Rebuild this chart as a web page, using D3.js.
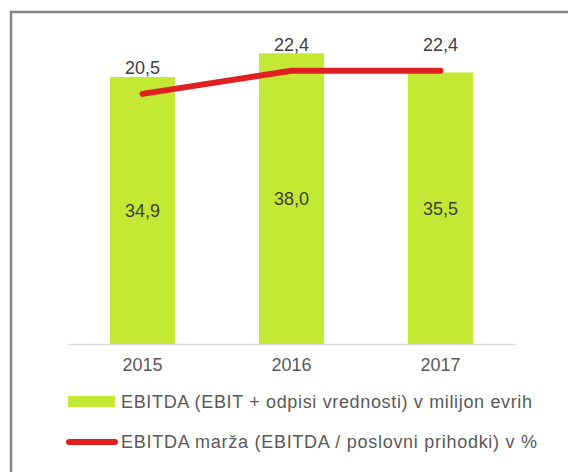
<!DOCTYPE html>
<html>
<head>
<meta charset="utf-8">
<script src="https://cdn.jsdelivr.net/npm/d3@7"></script>
<style>
  body { margin: 0; background: #fff; }
  svg { display: block; font-family: "Liberation Sans", Arial, sans-serif; }
</style>
</head>
<body>
<div class="content"></div>
<script>
var years = ["2015", "2016", "2017"];
var ebitda = [34.9, 38.0, 35.5];
var marza = [20.5, 22.4, 22.4];
var barLabel = "EBITDA (EBIT + odpisi vrednosti) v milijon evrih";
var lineLabel = "EBITDA marža (EBITDA / poslovni prihodki) v %";

var fullWidth = 568, fullHeight = 472;
var fmt = function(v){ return d3.format(".1f")(v).replace(".", ","); };

var svg = d3.select("div.content").append("svg")
    .attr("width", fullWidth)
    .attr("height", fullHeight);

// frame (runs off the right and bottom edge)
svg.append("rect")
    .attr("x", 11).attr("y", 12)
    .attr("width", 600).attr("height", 500)
    .attr("fill", "none")
    .attr("stroke", "#858585")
    .attr("stroke-width", 2.5);

var x = d3.scaleBand().domain(years).range([68, 515]).paddingInner(0.564).paddingOuter(0.282);
var y = d3.scaleLinear().domain([0, 40]).range([344, 38]);
var y2 = d3.scaleLinear().domain([0, 25]).range([344, 39]);

//bars
svg.selectAll(".bar")
    .data(years)
  .enter().append("rect")
    .attr("class", "bar")
    .attr("x", function(d){ return x(d); })
    .attr("width", x.bandwidth())
    .attr("y", function(d, i){ return y(ebitda[i]); })
    .attr("height", function(d, i){ return y(0) - y(ebitda[i]); })
    .style("fill", "#c3e934");

//x-axis
var xAxis = d3.axisBottom(x).tickSize(0).tickPadding(14);
var gx = svg.append("g")
    .attr("class", "x-axis")
    .attr("transform", "translate(0," + y(0) + ")")
    .call(xAxis);
gx.select(".domain").attr("stroke", "#d9d9d9").attr("stroke-width", 1.5);
gx.selectAll("text")
    .style("font-size", "18px")
    .style("fill", "#595959")
    .style("font-family", "'Liberation Sans', Arial, sans-serif");

//bar labels
svg.selectAll(".barlabel")
    .data(years)
  .enter().append("text")
    .attr("class", "barlabel")
    .attr("x", function(d){ return x(d) + x.bandwidth() / 2; })
    .attr("y", function(d, i){ return (y(ebitda[i]) + y(0)) / 2; })
    .attr("dy", "0.35em")
    .style("text-anchor", "middle")
    .style("font-size", "18px")
    .style("fill", "#404040")
    .text(function(d, i){ return fmt(ebitda[i]); });

//line
var valueLine = d3.line()
    .x(function(d, i){ return x(years[i]) + x.bandwidth() / 2; })
    .y(function(d){ return y2(d); });
svg.append("path")
    .datum(marza)
    .attr("d", valueLine)
    .attr("fill", "none")
    .attr("stroke", "#e02020")
    .attr("stroke-width", 6)
    .attr("stroke-linecap", "round")
    .attr("stroke-linejoin", "round");

//line labels
svg.selectAll(".linelabel")
    .data(marza)
  .enter().append("text")
    .attr("class", "linelabel")
    .attr("x", function(d, i){ return x(years[i]) + x.bandwidth() / 2; })
    .attr("y", function(d){ return y2(d) - 26; })
    .attr("dy", "0.35em")
    .style("text-anchor", "middle")
    .style("font-size", "18px")
    .style("fill", "#404040")
    .text(function(d){ return fmt(d); });

//legend
var legend = svg.append("g").attr("class", "legend");
legend.append("rect")
    .attr("x", 68).attr("y", 396)
    .attr("width", 47).attr("height", 11)
    .style("fill", "#c3e934");
legend.append("text")
    .attr("x", 121).attr("y", 402)
    .attr("dy", "0.35em")
    .attr("textLength", 411)
    .style("font-size", "18px")
    .style("fill", "#595959")
    .text(barLabel);
legend.append("line")
    .attr("x1", 69).attr("x2", 115)
    .attr("y1", 442).attr("y2", 442)
    .attr("stroke", "#e02020")
    .attr("stroke-width", 6)
    .attr("stroke-linecap", "round");
legend.append("text")
    .attr("x", 121).attr("y", 442)
    .attr("dy", "0.35em")
    .attr("textLength", 416)
    .style("font-size", "18px")
    .style("fill", "#595959")
    .text(lineLabel);
</script>
</body>
</html>
